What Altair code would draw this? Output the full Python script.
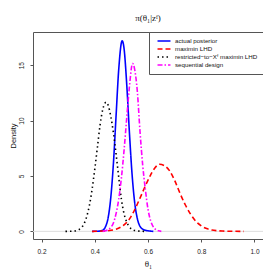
import altair as alt
import pandas as pd

series_names = ["actual posterior", "maximin LHD", "restricted\u2212to\u2212X\u1da0 maximin LHD", "sequential design"]
series_colors = ["#0000ff", "#ff0000", "#000000", "#ff00ff"]
series_dashes = [[1, 0], [5, 3], [1.5, 3], [5, 2, 1.5, 2]]

blue_x = [0.39, 0.40, 0.41, 0.42, 0.43, 0.44, 0.45, 0.46, 0.47, 0.48, 0.49, 0.503, 0.51, 0.52, 0.53, 0.54, 0.55, 0.56, 0.57, 0.58, 0.59, 0.60, 0.61, 0.62]
blue_y = [0, 0.005, 0.01, 0.03, 0.1, 0.4, 1.2, 3.0, 6.1, 10.4, 14.6, 17.2, 16.5, 13.3, 9.0, 5.2, 2.6, 1.15, 0.45, 0.2, 0.1, 0.05, 0.02, 0.0]

red_x = [0.39, 0.42, 0.45, 0.48, 0.50, 0.51, 0.53, 0.55, 0.57, 0.59, 0.61, 0.625, 0.643, 0.66, 0.68, 0.70, 0.72, 0.74, 0.76, 0.78, 0.80, 0.82, 0.84, 0.86, 0.88, 0.91, 0.96]
red_y = [0, 0.02, 0.06, 0.2, 0.42, 0.58, 1.1, 1.95, 3.0, 4.1, 5.1, 5.7, 6.05, 5.95, 5.5, 4.6, 3.45, 2.4, 1.55, 0.9, 0.5, 0.25, 0.12, 0.06, 0.03, 0.01, 0.0]

black_x = [0.29, 0.30, 0.31, 0.32, 0.33, 0.34, 0.35, 0.36, 0.37, 0.38, 0.39, 0.40, 0.41, 0.42, 0.43, 0.443, 0.45, 0.46, 0.47, 0.48, 0.49, 0.50, 0.51, 0.52, 0.53, 0.54, 0.55, 0.56, 0.57, 0.58, 0.59]
black_y = [0, 0.005, 0.01, 0.02, 0.06, 0.15, 0.33, 0.7, 1.35, 2.35, 3.8, 5.6, 7.6, 9.6, 11.0, 11.65, 11.4, 10.4, 8.9, 7.0, 4.9, 2.9, 1.6, 0.85, 0.4, 0.18, 0.08, 0.035, 0.015, 0.005, 0]

magenta_x = [0.43, 0.44, 0.45, 0.46, 0.47, 0.48, 0.49, 0.50, 0.51, 0.52, 0.53, 0.542, 0.55, 0.56, 0.57, 0.58, 0.59, 0.60, 0.61, 0.62, 0.63, 0.64, 0.65]
magenta_y = [0, 0.05, 0.15, 0.35, 0.75, 1.6, 2.9, 4.8, 7.3, 10.2, 13.0, 15.15, 14.6, 12.6, 9.0, 6.0, 3.8, 2.0, 0.95, 0.4, 0.15, 0.05, 0.0]

x_ticks = [0.2, 0.4, 0.6, 0.8, 1.0]
y_ticks = [0, 5, 10, 15]
zero_line = [0]

rows = []
for name, xs, ys in zip(series_names, [blue_x, red_x, black_x, magenta_x], [blue_y, red_y, black_y, magenta_y]):
    for i, (a, b) in enumerate(zip(xs, ys)):
        rows.append({"x": a, "y": b, "series": name, "order": i})
df = pd.DataFrame(rows)

legend_props = dict(
    title=None,
    orient="top-right",
    offset=0,
    padding=5,
    strokeColor="#555555",
    fillColor="white",
    labelFont="Liberation Sans",
    labelFontSize=6.2,
    labelColor="#111111",
    symbolType="M-2,0H2",
    symbolSize=42,
    symbolStrokeWidth=1.5,
    symbolOffset=6,
    labelOffset=7,
    rowPadding=0,
    labelLimit=200,
)

xscale = alt.Scale(domain=[0.168, 1.032], nice=False, zero=False)
yscale = alt.Scale(domain=[-0.69, 17.99], nice=False, zero=False)

zero = alt.Chart(pd.DataFrame({"y": zero_line})).mark_rule(color="#dddddd", strokeWidth=1).encode(
    y=alt.Y("y:Q", scale=yscale)
)

lines = alt.Chart(df).mark_line(strokeWidth=1.6, interpolate="monotone").encode(
    x=alt.X("x:Q", scale=xscale,
            axis=alt.Axis(values=x_ticks, format=".1f", title="\u03b8\u2081", labelPadding=6,
                          titlePadding=5, titleFont="Liberation Serif", titleFontSize=9,
                          titleFontWeight="normal")),
    y=alt.Y("y:Q", scale=yscale,
            axis=alt.Axis(values=y_ticks, title="Density", labelAngle=270, labelPadding=6,
                          titlePadding=1, titleFont="Liberation Sans", titleFontSize=7.5,
                          titleFontWeight="normal")),
    color=alt.Color("series:N", scale=alt.Scale(domain=series_names, range=series_colors),
                    legend=alt.Legend(**legend_props)),
    strokeDash=alt.StrokeDash("series:N", scale=alt.Scale(domain=series_names, range=series_dashes),
                              legend=alt.Legend(**legend_props)),
    order="order:Q",
)

chart = alt.layer(zero, lines).properties(
    width=230,
    height=207,
    autosize="none",
    padding={"left": 25, "top": 24, "right": 0, "bottom": 30},
    title=alt.TitleParams("\u03c0(\u03b8\u2081|z\u1da0)", font="Liberation Serif", fontSize=9,
                          fontWeight="normal", anchor="middle", offset=9, color="#111111"),
).configure_view(
    stroke="#555555", strokeWidth=1
).configure_axis(
    grid=False, domain=False, tickSize=3, tickColor="#555555",
    labelFont="Liberation Sans", labelFontSize=6.5, labelColor="#222222", titleColor="#111111"
)

chart.save("out.html", embed_options={"renderer": "svg", "actions": False})
